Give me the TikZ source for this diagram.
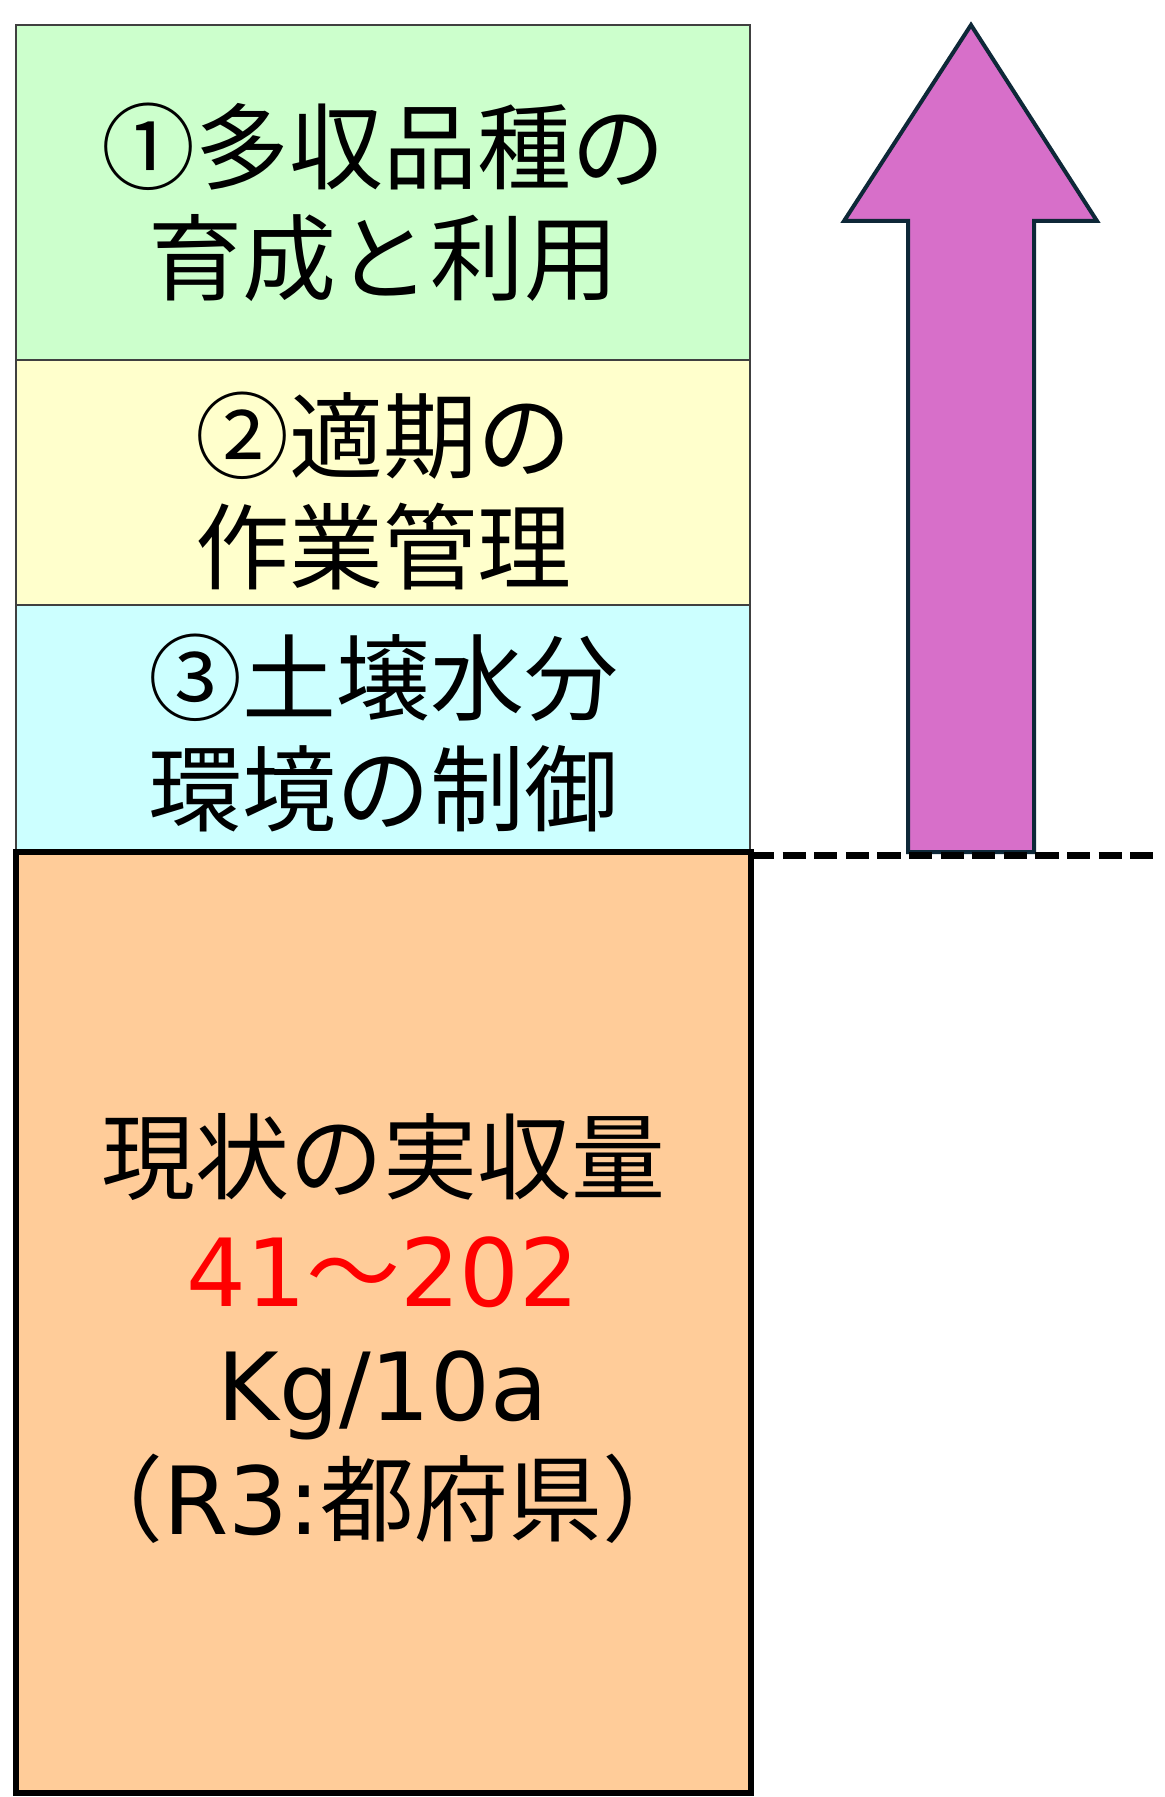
\documentclass[tikz,border=0pt]{standalone}
\usepackage{fontspec}
\setmainfont{Noto Sans CJK JP}
\newfontfamily\latf{DejaVu Sans}
\definecolor{gfill}{HTML}{CCFFCC}
\definecolor{yfill}{HTML}{FFFFCC}
\definecolor{cfill}{HTML}{CCFFFF}
\definecolor{ofill}{HTML}{FFCC99}
\definecolor{afill}{HTML}{D76FC9}
\definecolor{aedge}{HTML}{0E2838}
\definecolor{thinedge}{HTML}{404040}
\begin{document}
\begin{tikzpicture}[x=0.5pt,y=-0.5pt,
  layerbox/.style={draw=thinedge, line width=0.75pt, minimum width=367pt, inner sep=0pt, outer sep=0pt},
  basebox/.style={draw=black, line width=3pt, fill=ofill, minimum width=367.5pt, minimum height=470.5pt, inner sep=0pt, outer sep=0pt},
  label/.style={align=center, inner sep=0pt, font=\fontsize{47}{55.5}\selectfont},
  biglabel/.style={align=center, inner sep=0pt, font=\fontsize{47}{57}\selectfont}]
\useasboundingbox (0,0) rectangle (1164,1797);
\node[layerbox, fill=gfill, minimum height=167.5pt] (g) at (383,192.5) {};
\node[layerbox, fill=yfill, minimum height=122.5pt] (y) at (383,482.5) {};
\node[layerbox, fill=cfill, minimum height=122.5pt] (c) at (383,727.5) {};
\node[basebox] (o) at (383.5,1322.5) {};
\node[label] (gt) at (383,202.5) {①多収品種の\\育成と利用};
\node[label] (yt) at (383,491) {②適期の\\作業管理};
\node[label] (ct) at (383,733) {③土壌水分\\環境の制御};
\node[biglabel] (ot) at (383,1328) {現状の実収量\\\textcolor{red}{{\latf 41}～{\latf 202}}\\{\latf Kg/10a}\\（{\latf R3:}都府県）};
\draw[fill=afill, draw=aedge, line width=2pt, line join=miter]
  (971,25) -- (1097,221) -- (1034,221) -- (1034,852) -- (908,852) -- (908,221) -- (844,221) -- cycle;
\coordinate (dend) at (1157,855.5);
\draw[line width=3.8pt, dash pattern=on 11.6pt off 4.2pt] (o.north east |- dend) -- (dend);
\end{tikzpicture}
\end{document}
